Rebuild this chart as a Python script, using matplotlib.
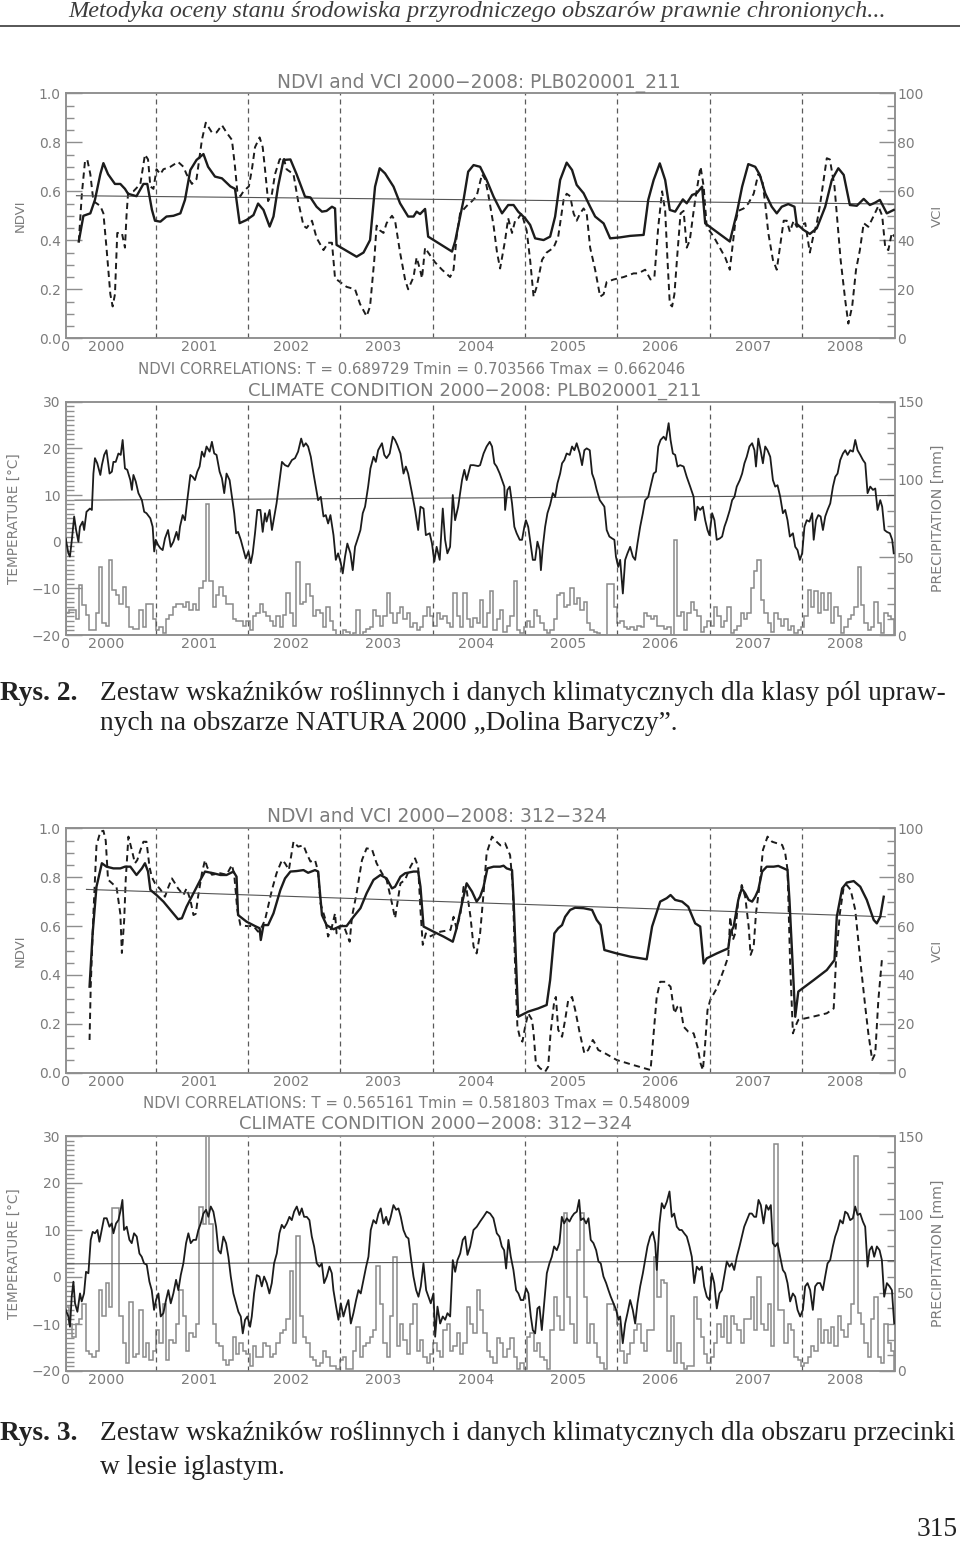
"""Page 315: NDVI/VCI and climate panels for Rys. 2 and Rys. 3."""

import matplotlib
matplotlib.use("Agg")
import matplotlib.pyplot as plt
from matplotlib.lines import Line2D
from matplotlib.ticker import MultipleLocator

W, H = 960, 1541

YEARS = ["2000", "2001", "2002", "2003", "2004", "2005", "2006", "2007", "2008"]

HEADER = "Metodyka oceny stanu środowiska przyrodniczego obszarów prawnie chronionych..."
CAP2 = ["Zestaw wskaźników roślinnych i danych klimatycznych dla klasy pól upraw-",
        "nych na obszarze NATURA 2000 „Dolina Baryczy”."]
CAP3 = ["Zestaw wskaźników roślinnych i danych klimatycznych dla obszaru przecinki",
        "w lesie iglastym."]
PAGE = "315"

TITLE_A = "NDVI and VCI 2000\u22122008: PLB020001_211"
CORR_A = "NDVI CORRELATIONS: T = 0.689729 Tmin = 0.703566 Tmax = 0.662046"
CLIM_A = "CLIMATE CONDITION 2000\u22122008: PLB020001_211"
TITLE_B = "NDVI and VCI 2000\u22122008: 312\u2212324"
CORR_B = "NDVI CORRELATIONS: T = 0.565161 Tmin = 0.581803 Tmax = 0.548009"
CLIM_B = "CLIMATE CONDITION 2000\u22122008: 312\u2212324"

# (month since start of axis, value)
NDVI_A = [(1.7, .395), (2.3, .50), (3.2, .51), (3.8, .565), (4.5, .67), (4.9, .715), (5.5, .67),
          (6.4, .63), (7.1, .63), (7.7, .61), (8.1, .59), (9.2, .58), (10.1, .63), (10.6, .63),
          (11.2, .525), (11.6, .48), (12.3, .476), (13.1, .497), (14.0, .50), (14.9, .51),
          (15.5, .565), (16.2, .687), (17.0, .728), (17.9, .752), (18.5, .70), (19.4, .66),
          (20.3, .653), (21.4, .62), (22.0, .61), (22.6, .47), (23.5, .483), (24.4, .503),
          (25.0, .55), (25.7, .524), (26.5, .456), (27.0, .497), (27.6, .62), (28.3, .728),
          (29.2, .73), (30.0, .67), (31.1, .578), (31.8, .575), (32.6, .537), (33.3, .517),
          (33.9, .52), (34.6, .537), (35.0, .53), (35.2, .381), (37.8, .333), (38.7, .350),
          (39.55, .401), (40.2, .619), (40.8, .694), (41.5, .673), (42.6, .619), (43.45, .551),
          (44.5, .497), (45.2, .497), (45.6, .517), (46.05, .507), (46.7, .528), (47.1, .415),
          (50.2, .354), (50.6, .395), (51.7, .565), (52.3, .68), (53.0, .707), (53.85, .70),
          (54.7, .646), (55.6, .578), (56.7, .510), (57.5, .544), (58.2, .544), (58.8, .517),
          (59.7, .490), (60.35, .463), (61.0, .408), (62.1, .401), (62.95, .415), (63.6, .497),
          (64.25, .646), (65.1, .717), (65.8, .687), (66.4, .626), (67.3, .592), (68.15, .537),
          (68.8, .497), (69.9, .469), (70.75, .408), (72.05, .412), (73.34, .418), (75.1, .422),
          (75.7, .565), (76.4, .646), (77.2, .714), (77.9, .646), (78.5, .524), (79.2, .517),
          (80.2, .567), (80.7, .551), (81.4, .585), (82.0, .592), (82.7, .619), (83.1, .469),
          (86.3, .395), (87.2, .51), (87.9, .619), (88.7, .711), (89.6, .70), (90.2, .667),
          (90.9, .592), (91.75, .537), (92.4, .51), (93.05, .537), (93.9, .548), (94.7, .537),
          (95.0, .467), (95.9, .442), (96.7, .426), (97.6, .449), (98.7, .537), (99.55, .646),
          (100.4, .694), (101.1, .667), (101.9, .544), (102.8, .541), (103.7, .569),
          (104.5, .544), (105.2, .554), (105.8, .565), (106.7, .51), (107.6, .524)]

VCI_A = [(1.7, 39.5), (2.1, 59), (2.5, 72), (2.8, 73), (3.2, 67), (3.6, 56), (4.5, 54), (4.9, 51),
         (5.3, 37), (5.8, 18), (6.1, 13), (6.4, 18), (6.7, 43), (7.3, 43), (7.7, 37), (7.9, 50),
         (8.1, 59), (8.8, 60), (9.7, 63), (10.3, 75), (10.7, 73), (11.0, 62), (11.4, 61),
         (11.8, 69), (12.3, 67), (12.7, 69), (13.6, 70), (14.6, 72), (15.3, 70), (15.7, 67),
         (16.4, 63), (17.0, 65), (17.7, 81), (18.2, 88), (19.0, 84), (19.6, 84), (20.3, 87),
         (20.9, 84), (21.6, 81), (22.0, 70), (22.3, 60), (22.7, 58), (23.1, 60), (23.8, 62),
         (24.2, 69), (24.6, 78), (25.2, 82), (25.6, 78), (25.9, 69), (26.3, 56), (26.8, 59),
         (27.2, 67), (27.8, 73), (28.3, 74), (28.7, 69), (29.6, 67), (30.2, 56), (30.9, 46),
         (31.3, 45), (32.0, 48), (32.6, 41), (33.5, 36), (34.1, 39), (34.6, 39), (35.0, 24.5),
         (35.65, 23), (36.5, 21), (37.6, 20), (38.25, 14), (39.1, 9), (39.55, 13), (40.1, 32),
         (40.4, 46), (40.85, 44), (41.3, 43), (41.7, 47), (42.4, 50), (42.8, 48), (43.45, 35),
         (44.1, 24), (44.5, 20), (45.2, 25), (45.6, 33), (46.05, 28), (46.3, 24.5), (46.7, 37),
         (47.1, 35), (48.0, 31), (48.9, 28), (49.95, 25), (50.4, 28), (50.8, 41.5), (51.25, 51),
         (52.1, 54), (52.8, 56), (53.4, 58), (54.1, 67), (54.5, 65), (54.9, 59), (55.6, 46),
         (56.05, 35), (56.45, 28.5), (57.1, 40), (57.5, 49), (58.0, 43), (58.4, 48), (58.8, 49),
         (59.25, 51), (59.9, 44), (60.35, 32), (60.8, 17), (61.2, 21), (61.9, 32), (62.5, 35),
         (63.4, 37), (64.0, 41.5), (64.7, 56.5), (65.1, 59), (65.55, 58), (66.0, 51), (66.4, 48),
         (66.85, 51), (67.3, 53), (67.7, 51), (68.15, 37), (68.8, 28), (69.45, 17), (69.9, 18),
         (70.3, 23), (71.2, 24), (72.5, 25), (73.8, 26.5), (74.4, 26.5), (75.3, 28), (76.0, 24),
         (76.5, 25), (77.0, 45.5), (77.5, 60), (77.9, 52), (78.2, 32), (78.5, 14), (78.8, 13),
         (79.1, 18), (79.5, 35), (79.9, 51), (80.3, 52), (80.7, 37), (81.1, 40), (81.6, 52),
         (82.0, 60.5), (82.5, 70), (82.9, 62), (83.3, 45.5), (84.2, 41.5), (85.0, 37), (85.7, 33),
         (86.3, 28), (86.6, 36), (87.0, 47), (87.4, 52), (88.1, 53), (88.7, 55), (89.4, 59),
         (90.0, 67), (90.5, 65), (90.9, 55), (91.3, 43), (91.9, 32), (92.4, 28), (92.8, 37),
         (93.3, 48), (93.7, 48), (94.1, 43.5), (94.6, 48), (95.0, 45.5), (95.4, 46), (96.1, 47),
         (96.7, 35), (97.1, 41), (97.6, 47), (98.0, 54), (98.5, 65), (98.9, 73.5), (99.3, 73),
         (99.9, 62), (100.3, 47), (100.7, 32), (101.3, 15.5), (101.7, 6), (102.2, 13),
         (102.7, 28), (103.2, 36), (103.7, 47), (104.3, 45.5), (105.0, 50), (105.6, 54),
         (106.1, 50), (106.5, 37), (106.9, 36), (107.35, 43), (107.7, 41.5)]

NDVI_A_TREND = [(1.4, 0.582), (107.7, 0.548)]

TEMP_A = [(0, .7), (.35, -2.5), (.55, -3.2), (.8, .4), (1.1, 5.4), (1.35, 2.5), (1.65, 0), (1.85, 3.2),
          (2.2, 4.3), (2.4, 2.5), (2.7, 6.4), (3.15, 7.1), (3.4, 6.8), (3.6, 14.6), (3.8, 17.9),
          (4.1, 16.8), (4.5, 14.3), (4.7, 16.4), (5.0, 18.6), (5.3, 19.6), (5.7, 14.6), (6.0, 15),
          (6.2, 17.1), (6.5, 17.1), (6.85, 18.9), (7.15, 18.6), (7.4, 21.8), (7.7, 15.7), (8.0, 15.4),
          (8.4, 13.2), (8.6, 11.1), (8.8, 14.3), (9.1, 12.9), (9.45, 10.4), (9.9, 8.9), (10.2, 6.4),
          (10.5, 6.1), (11.0, 5), (11.3, 3.2), (11.5, -2.1), (11.7, .4), (12.0, -.7), (12.3, -1.4),
          (12.6, -1.8), (12.9, .7), (13.3, 2.5), (13.65, -1.1), (14.0, 0), (14.4, 2.1), (14.65, .4),
          (14.85, 3.2), (15.2, 5.7), (15.5, 4.6), (15.8, 8.9), (16.2, 14.3), (16.5, 13.9),
          (16.8, 13.2), (17.1, 15), (17.4, 16.1), (17.7, 19.3), (18.0, 18.2), (18.3, 20.4),
          (18.7, 19.3), (19.0, 21.4), (19.3, 18.9), (19.6, 18.6), (20.0, 15), (20.3, 13.6),
          (20.6, 10.4), (20.9, 14.6), (21.3, 13.2), (21.6, 9.6), (21.9, 6.1), (22.15, 1.8),
          (22.4, 2.1), (22.75, .4), (23.1, -1.8), (23.4, -3.6), (23.75, -2.1), (24.05, -4.6),
          (24.3, -2.5), (24.6, 1.8), (24.9, 6.8), (25.3, 6.8), (25.6, 2.1), (25.9, 6.1), (26.1, 4.3),
          (26.5, 6.8), (26.8, 2.5), (27.1, 5.4), (27.4, 8.2), (27.8, 13.2), (28.1, 17.1),
          (28.5, 16.4), (28.9, 16.1), (29.4, 17.5), (29.8, 17.9), (30.2, 19.3), (30.6, 22.1),
          (30.9, 20.4), (31.2, 21.1), (31.5, 20.4), (31.85, 18.2), (32.2, 14.6), (32.5, 11.8),
          (32.8, 8.9), (33.15, 9.6), (33.5, 5.4), (33.8, 5.7), (34.1, 3.9), (34.4, 5.7), (34.8, 1.4),
          (35.1, -3.9), (35.4, -2.5), (35.75, -4.6), (36.0, -6.8), (36.3, -3.2), (36.6, -.4),
          (37.0, -2.5), (37.3, -6.1), (37.6, -1.1), (37.9, .4), (38.3, 2.5), (38.6, 6.1), (38.9, 7.5),
          (39.3, 11.8), (39.6, 15.7), (40.0, 18.2), (40.3, 17.1), (40.6, 19.6), (41.1, 21.1),
          (41.4, 18.6), (41.7, 17.9), (42.1, 18.9), (42.5, 22.5), (42.8, 21.8), (43.1, 20.7),
          (43.5, 18.9), (43.9, 14.6), (44.2, 16.1), (44.5, 14.6), (45.0, 10.4), (45.4, 6.8),
          (45.8, 2.5), (46.1, 7.5), (46.5, 7.1), (46.8, 1.4), (47.3, 1.8), (47.6, -.4), (47.9, -4.3),
          (48.2, -1.1), (48.6, -3.9), (49.0, 7.1), (49.3, .4), (49.6, -2.5), (49.95, -1.1),
          (50.3, 10), (50.6, 4.6), (51.0, 7.5), (51.5, 13.2), (51.8, 15.4), (52.1, 13.2),
          (52.6, 16.4), (53.0, 16.4), (53.6, 16.2), (53.85, 16.4), (54.3, 18.9), (54.7, 20.4),
          (55.1, 21.4), (55.4, 20.4), (55.7, 16.8), (56.0, 16.1), (56.4, 14.6), (56.7, 13.2),
          (57.0, 11.8), (57.1, 6.8), (57.4, 11.1), (57.7, 11.8), (58.0, 8.2), (58.3, 3.2),
          (58.6, 1.8), (59.0, .4), (59.3, .4), (59.6, 3.2), (59.8, 4.6), (60.1, 3.2), (60.4, -.4),
          (60.7, -3.9), (61.0, -3.9), (61.3, 0), (61.6, -1.8), (61.75, -6.1), (62.0, -1.1),
          (62.3, 3.2), (62.6, 6.1), (62.95, 7.9), (63.3, 10.4), (63.6, 9.6), (63.9, 12.5),
          (64.25, 14.6), (64.5, 16.8), (64.8, 17.5), (65.1, 18.9), (65.5, 18.6), (65.8, 20.4),
          (66.1, 19.6), (66.4, 21.1), (66.8, 18.9), (67.1, 16.4), (67.4, 19.6), (67.7, 20),
          (68.1, 19.6), (68.4, 14.6), (68.7, 13.2), (69.0, 11.1), (69.4, 8.9), (69.7, 8.2),
          (70.0, 7.5), (70.3, 2.5), (70.65, 1.1), (71.0, .7), (71.3, .4), (71.5, -3.2), (71.8, -5.4),
          (72.05, -3.9), (72.4, -11.1), (72.7, -3.9), (73.0, -2.5), (73.35, -1.1), (73.7, -3.2),
          (74.0, -3.9), (74.3, -.4), (74.65, 3.2), (75.0, 6.1), (75.3, 8.9), (75.7, 9.6),
          (76.0, 11.8), (76.4, 14.6), (76.7, 15), (77.0, 20.4), (77.3, 21.8), (77.7, 22.5),
          (78.0, 21.8), (78.35, 25.4), (78.6, 21.8), (78.9, 18.9), (79.2, 18.6), (79.5, 16.1),
          (79.85, 16.4), (80.3, 16.1), (80.7, 13.9), (81.15, 11.8), (81.6, 9.6), (81.8, 4.6),
          (82.1, 7.5), (82.45, 6.8), (82.8, 7.5), (83.1, 4.6), (83.4, 2.5), (83.65, 1.4), (84.0, 6.1),
          (84.3, 4.6), (84.6, .4), (85.0, .7), (85.3, 1.1), (85.6, 3.2), (85.9, 4.6), (86.3, 6.8),
          (86.6, 8.9), (86.9, 9.6), (87.2, 11.8), (87.6, 13.2), (87.9, 14.6), (88.2, 16.8),
          (88.5, 18.2), (88.85, 20.4), (89.2, 21.1), (89.5, 19.6), (89.7, 16.1), (90.0, 22.1),
          (90.3, 19.6), (90.6, 16.8), (90.9, 20.4), (91.2, 19.6), (91.55, 18.2), (91.9, 13.2),
          (92.2, 11.8), (92.5, 12.1), (92.85, 9.6), (93.2, 6.1), (93.5, 6.8), (93.8, 4.6),
          (94.1, 1.1), (94.5, 1.8), (94.8, -1.1), (95.1, -1.8), (95.4, -3.9), (95.7, -2.5),
          (96.0, 3.2), (96.3, 4.6), (96.65, 4.3), (97.0, 6.1), (97.2, .4), (97.5, 4.6), (97.8, 5.7),
          (98.1, 5.4), (98.4, 2.5), (98.7, 5.4), (99.0, 6.8), (99.35, 8.2), (99.7, 11.8),
          (100.0, 13.9), (100.3, 14.6), (100.65, 17.5), (101.0, 18.9), (101.3, 19.6),
          (101.6, 18.6), (101.95, 19.6), (102.3, 19.3), (102.6, 21.8), (102.9, 19.6),
          (103.25, 18.6), (103.6, 17.5), (103.9, 16.8), (104.2, 10.4), (104.55, 11.8),
          (104.9, 11.1), (105.2, 11.4), (105.5, 6.8), (105.85, 8.9), (106.1, 7.5), (106.4, 2.5),
          (106.7, 2.1), (107.1, 1.8), (107.4, .4), (107.6, -2.5)]

TEMP_A_TREND = [(1.2, 8.9), (107.7, 9.9)]

# precipitation, equal bins across the axis [mm]
PREC_A = [14, 16, 16, 10, 32, 19, 13, 3, 3, 14, 44, 7.5, 6, 48, 29, 26, 20, 31, 18, 5,
          4, 4, 16, 5, 20, 20, 10, 3, 5, 1, 10, 13, 18, 20, 20, 18, 21, 16, 20, 16,
          30, 35, 84, 35, 18, 26, 31, 25, 20, 20, 10, 9, 9, 6, 9, 3, 12, 14, 20, 15,
          12, 9, 6, 12, 5, 13, 27, 14, 6, 47, 20, 21, 33, 25, 12, 16, 14, 5, 18, 9,
          3, 0, 0, 3, 2, 0, 1, 16, 0, 2, 4, 5, 16, 12, 6, 12, 27, 14, 7.5, 14,
          18, 10, 14, 5, 7.5, 3, 5, 12, 18, 12, 6, 14, 10, 12, 7.5, 5, 27, 12, 5, 27,
          10, 5, 11, 7.5,
          22.5, 5, 14, 28, 3, 10, 16, 2, 6, 12, 35, 3, 1, 5, 9, 5, 16, 12, 7.5, 3,
          1, 3, 10, 26, 27, 18, 19, 30, 20, 24, 16, 21, 7.5, 3, 2, 1, 0, 0, 33, 33,
          18, 7.5, 9, 5, 4, 5, 3, 6, 5, 14, 12, 10, 12, 6, 6, 4, 5, 0, 61, 12,
          15, 3, 14, 21, 16, 12, 2, 5, 9, 6, 18, 12, 5, 9, 18, 1, 3, 6, 14, 10,
          14, 30, 41, 48, 22.5, 14, 7.5, 2, 14, 10, 6, 10, 3, 6, 1, 3, 5, 12, 29, 18,
          28, 14, 27, 16, 27, 7.5, 18, 12, 1, 5, 10, 13, 18, 44, 19, 7.5, 3, 5, 21, 7.5,
          1, 14, 12, 10]

NDVI_B = [(3.1, .352), (3.5, .57), (4.0, .761), (4.7, .857), (5.3, .843), (6.2, .836), (7.1, .836),
          (7.7, .843), (8.4, .843), (9.2, .809), (9.9, .836), (10.3, .857), (10.7, .823), (11.0, .748),
          (11.8, .727), (12.7, .70), (13.6, .666), (14.6, .628), (15.1, .632), (15.7, .679),
          (16.6, .734), (17.5, .789), (18.1, .823), (19.2, .816), (20.1, .809), (20.9, .809),
          (21.8, .823), (22.2, .802), (22.4, .645), (23.5, .618), (24.6, .60), (25.2, .591),
          (25.35, .543), (25.7, .604), (26.3, .604), (27.0, .652), (27.9, .748), (28.5, .795),
          (29.2, .823), (30.0, .825), (30.9, .829), (31.5, .818), (32.4, .829), (32.8, .823),
          (33.3, .645), (33.9, .604), (34.8, .587), (35.7, .60), (36.5, .60), (37.4, .638),
          (38.3, .673), (39.1, .734), (40.0, .789), (40.9, .809), (41.7, .795), (42.4, .754),
          (42.8, .761), (43.5, .802), (44.1, .816), (45.2, .823), (45.8, .823), (46.1, .761),
          (46.5, .598), (47.8, .577), (49.1, .557), (50.3, .536), (50.8, .591), (51.5, .693),
          (52.1, .775), (52.8, .741), (53.4, .70), (53.85, .72), (54.3, .761), (54.8, .836),
          (55.6, .843), (56.45, .843), (56.9, .847), (57.3, .836), (58.0, .829), (58.2, .707),
          (58.8, .229), (60.1, .25), (61.4, .263), (62.5, .277), (62.95, .379), (63.5, .57),
          (64.0, .591), (64.5, .604), (64.9, .638), (65.55, .666), (66.2, .675), (67.3, .673),
          (68.4, .666), (69.0, .625), (69.5, .604), (70.0, .502), (71.6, .488), (73.35, .475),
          (75.5, .464), (76.2, .598), (77.25, .70), (78.1, .714), (78.6, .727), (79.2, .707),
          (80.1, .70), (80.9, .679), (81.8, .611), (82.45, .598), (82.9, .447), (83.3, .468),
          (84.6, .488), (86.1, .509), (86.35, .57), (86.8, .598), (87.4, .707), (87.85, .754),
          (88.3, .734), (88.75, .707), (89.2, .70), (89.6, .72), (90.0, .748), (90.5, .823),
          (91.1, .843), (92.0, .843), (92.6, .846), (93.3, .836), (93.8, .829), (94.05, .707),
          (94.6, .352), (94.8, .229), (95.2, .332), (97.2, .379), (98.9, .42), (99.9, .461),
          (100.2, .638), (100.9, .754), (101.5, .778), (102.4, .784), (103.25, .761), (104.1, .707),
          (105.0, .625), (105.4, .611), (105.85, .638), (106.3, .72)]

VCI_B = [(3.1, 13.4), (3.25, 35), (3.6, 65), (4.0, 93), (4.5, 98.6), (4.9, 99), (5.2, 95), (5.5, 79),
         (6.2, 77), (6.6, 76), (7.1, 65), (7.3, 49), (7.6, 62.5), (7.8, 79), (8.15, 96.6), (8.6, 91),
         (9.0, 85.7), (9.3, 87), (9.7, 91), (10.1, 94.5), (10.5, 94.5), (10.9, 84), (11.2, 80),
         (11.6, 77.5), (12.3, 75), (12.9, 72), (13.35, 76), (13.8, 79.5), (14.2, 77.5), (14.6, 75.4),
         (15.3, 72.7), (15.7, 75.4), (16.2, 70.7), (16.6, 64.5), (16.9, 65), (17.2, 72), (17.7, 81.6),
         (18.1, 87), (18.4, 84), (19.0, 81), (20.1, 81.6), (20.9, 81), (21.6, 85), (21.9, 81),
         (22.3, 66.6), (22.7, 60.4), (23.5, 60), (24.4, 60), (25.0, 57.7), (25.5, 59.8), (25.9, 62.5),
         (26.3, 68), (26.8, 74.8), (27.4, 81.6), (28.1, 87), (28.5, 85.7), (29.0, 83), (29.6, 94.5),
         (30.2, 92.5), (30.9, 93), (31.3, 89.8), (31.8, 86.4), (32.4, 87), (32.8, 82.3), (33.1, 69.3),
         (33.7, 63.2), (34.1, 55.7), (34.6, 59.8), (35.0, 65.2), (35.2, 57), (35.7, 59.8), (36.1, 60.4),
         (36.5, 57), (36.9, 53.6), (37.2, 63.8), (37.8, 73.4), (38.5, 87), (39.1, 91.8), (39.8, 91.4),
         (40.4, 85.7), (41.1, 81.6), (41.7, 78.9), (42.4, 69.3), (42.8, 63.2), (43.1, 69.3),
         (43.5, 77.5), (44.1, 78.9), (44.8, 84.3), (45.4, 87.7), (45.8, 84.3), (46.1, 66.6),
         (46.4, 52.3), (46.8, 57), (47.3, 55.7), (48.7, 57.7), (50.0, 58.4), (50.4, 63.8), (50.8, 59),
         (51.3, 65.2), (51.7, 76), (52.1, 74.8), (52.6, 63.8), (53.0, 51.6), (53.4, 48.8),
         (53.85, 57), (54.3, 73.4), (54.7, 89.8), (55.4, 96.6), (56.0, 94.5), (56.5, 93),
         (57.1, 93.9), (57.75, 89), (58.1, 76), (58.4, 43.4), (58.7, 18.8), (59.05, 14),
         (59.35, 12.7), (59.7, 18.8), (60.1, 24.3), (60.6, 21.6), (60.8, 16.2), (61.1, 3.8),
         (61.65, 1.8), (62.3, .4), (62.7, 2.5), (63.0, 16), (63.5, 29.7), (63.7, 31), (64.0, 17.5),
         (64.5, 14.7), (64.9, 21.6), (65.3, 29.7), (65.8, 31), (66.2, 25.8), (66.8, 16.2),
         (67.4, 7.9), (67.9, 9.3), (68.5, 13.4), (68.9, 11.3), (69.2, 9.3), (70.1, 7.9), (71.6, 5.2),
         (73.8, 3.1), (76.0, 1.1), (76.4, 16.1), (76.8, 31), (77.25, 37.2), (77.9, 37.2),
         (78.6, 35.2), (79.1, 24.3), (79.5, 27), (79.85, 27.7), (80.3, 18.8), (80.9, 16.8),
         (81.6, 16.1), (82.1, 10.6), (82.5, 3.8), (82.8, 1.1), (83.1, 12), (83.4, 25.6),
         (83.75, 29.7), (84.6, 34.5), (85.5, 42), (86.1, 47.5), (86.35, 63.8), (86.7, 54.3),
         (87.0, 57), (87.4, 70.7), (87.85, 76.8), (88.3, 72), (88.75, 59.8), (89.0, 48.2),
         (89.4, 51.6), (89.7, 65.2), (90.2, 77.5), (90.6, 91.1), (91.2, 96.6), (91.8, 94.5),
         (92.4, 93.9), (93.1, 93.2), (93.5, 89.8), (93.8, 83), (94.15, 43.4), (94.5, 16.1),
         (94.8, 18.8), (95.2, 21.6), (97.2, 23), (98.9, 24.3), (99.8, 26.3), (100.1, 46),
         (100.6, 65.2), (101.1, 76), (101.5, 76.8), (102.0, 74.8), (102.6, 66.6), (103.25, 46),
         (103.9, 27), (104.3, 16.1), (104.8, 5.2), (105.2, 7.9), (105.6, 29.7), (106.1, 47.5)]

NDVI_B_TREND = [(2.7, 0.75), (106.5, 0.638)]

TEMP_B = [(0, -7), (.35, -8.4), (.56, -10.6), (.78, -4.2), (1.0, -1), (1.21, -5.6), (1.52, -7.4),
          (1.86, -3.5), (2.08, -5.2), (2.38, -3.5), (2.64, 1.1), (2.95, .8), (3.25, 7.9), (3.51, 9.6),
          (3.81, 9.3), (4.12, 10), (4.38, 7.5), (4.68, 10), (4.98, 12.5), (5.33, 12.5), (5.68, 10.7),
          (5.98, 11.4), (6.2, 9.3), (6.54, 11.4), (6.85, 12.1), (7.15, 14.3), (7.37, 16.4), (7.58, 10),
          (7.93, 10.7), (8.28, 7.9), (8.58, 7.2), (8.88, 9.3), (9.23, 8.6), (9.58, 5), (9.88, 4.3),
          (10.18, 2.9), (10.53, 2.6), (10.88, -1), (11.18, -2.8), (11.48, -7), (11.74, -4.9),
          (12.05, -3.5), (12.35, -8.4), (12.69, -7.7), (13.04, -4.9), (13.34, -2.8), (13.65, -5.6),
          (13.99, -3.5), (14.34, -.6), (14.64, -2.8), (14.95, .4), (15.29, 2.9), (15.64, 7.2),
          (15.94, 9.3), (16.25, 7.2), (16.59, 7.9), (16.94, 7.9), (17.24, 10), (17.55, 11.4),
          (17.89, 13.5), (18.24, 14.3), (18.54, 12.8), (18.85, 15), (19.19, 13.9), (19.54, 10.7),
          (19.84, 5.7), (20.15, 5), (20.49, 8.6), (20.84, 7.2), (21.14, 4.3), (21.45, .1),
          (21.79, -3.5), (22.14, -5.6), (22.44, -7.4), (22.75, -8.4), (23.01, -12), (23.31, -9.1),
          (23.61, -8.4), (23.96, -10.6), (24.18, -8.4), (24.48, -3.5), (24.83, .4), (25.17, .1),
          (25.48, -2), (25.78, .1), (26.13, -1.3), (26.47, -3.5), (26.78, -1.3), (27.08, 2.9),
          (27.43, 5), (27.77, 9.3), (28.08, 11.1), (28.38, 10.4), (28.73, 11.4), (29.07, 12.8),
          (29.38, 12.1), (29.68, 13.9), (30.03, 15), (30.37, 13.2), (30.68, 14.6), (30.98, 12.8),
          (31.33, 12.8), (31.67, 12.1), (31.98, 8.6), (32.28, 6.5), (32.63, 2.9), (32.97, 2.2),
          (33.28, 2.9), (33.58, -1.3), (33.93, .1), (34.27, 2.2), (34.58, .8), (34.79, -2.8),
          (35.14, -6.3), (35.44, -9.1), (35.75, -5.6), (36.09, -8.4), (36.44, -6.3), (36.74, -4.9),
          (37.05, -9.9), (37.39, -7.7), (37.74, -4.9), (38.04, -2.8), (38.34, -3.5), (38.69, -.6),
          (39.04, 2.2), (39.34, 4.3), (39.64, 10), (39.99, 12.1), (40.34, 11.4), (40.64, 13.5),
          (40.94, 14.6), (41.29, 11.4), (41.64, 12.8), (41.94, 11.1), (42.24, 12.8), (42.59, 15.3),
          (42.94, 14.3), (43.24, 14.6), (43.54, 12.8), (43.89, 10), (44.24, 8.6), (44.54, 8.2),
          (44.84, 4.3), (45.19, .1), (45.54, -2.8), (45.84, -4.2), (46.14, -2), (46.49, 2.9),
          (46.84, -2.8), (47.14, -4.2), (47.44, -5.6), (47.79, -3.5), (48.01, -12.7), (48.31, -6.3),
          (48.66, -9.9), (49.0, -8.4), (49.31, -9.1), (49.61, -7.7), (49.96, -8.4), (50.3, 3.6),
          (50.61, 1.1), (50.91, 3.6), (51.26, 5), (51.6, 7.9), (51.91, 8.6), (52.21, 4.7),
          (52.56, 6.5), (52.99, 10), (53.42, 10.7), (53.85, 11.8), (54.28, 12.8), (54.72, 13.9),
          (55.15, 13.5), (55.58, 12.5), (56.02, 9.3), (56.36, 8.6), (56.67, 6.5), (56.97, 5.7),
          (57.23, 1.8), (57.53, 7.9), (57.84, 4.3), (58.18, 1.5), (58.53, -2.8), (58.83, -3.5),
          (59.14, -4.9), (59.48, -4.9), (59.83, -2.4), (60.13, -3.5), (60.44, -8.4), (60.7, -11.3),
          (61.0, -12), (61.3, -6.7), (61.56, -6.3), (61.87, -11.3), (62.17, -5.6), (62.52, .8),
          (62.86, 2.9), (63.17, 4.3), (63.47, 6.5), (63.82, 5.7), (64.16, 7.2), (64.47, 12.8),
          (64.77, 11.4), (65.12, 12.5), (65.46, 11.8), (65.77, 12.8), (66.07, 13.5), (66.42, 13.9),
          (66.72, 16.4), (66.94, 12.1), (67.28, 12.5), (67.63, 11.4), (67.93, 12.5), (68.23, 7.9),
          (68.58, 7.2), (68.93, 5.7), (69.23, 3.3), (69.53, 2.9), (69.88, .1), (70.23, -1.3),
          (70.53, -2.8), (70.83, -4.2), (71.18, -5.6), (71.53, -7), (71.83, -9.1), (72.05, -8.4),
          (72.39, -14.1), (72.7, -9.9), (73.0, -7.7), (73.35, -4.9), (73.69, -7), (74.0, -9.9),
          (74.3, -5.6), (74.65, -2), (75.0, .8), (75.3, 3.6), (75.6, 6.5), (75.95, 8.6),
          (76.29, 9.6), (76.6, 7.2), (76.81, 1.5), (77.16, 11.4), (77.46, 15.7), (77.77, 14.6),
          (78.11, 16), (78.46, 18.2), (78.76, 12.8), (79.07, 13.5), (79.41, 10.7), (79.76, 10),
          (80.06, 10), (80.37, 9.3), (80.71, 8.6), (81.06, 6.5), (81.36, 4.3), (81.67, -1.3),
          (82.01, 2.2), (82.36, 1.5), (82.66, 2.2), (82.97, -2), (83.31, -4.2), (83.66, -4.9),
          (83.96, .8), (84.27, -1.3), (84.61, -6.7), (84.96, -3.5), (85.26, -2.8), (85.57, .1),
          (85.91, 3.3), (86.26, 2.2), (86.56, 2.9), (86.87, 1.5), (87.21, 4.3), (87.56, 6.5),
          (87.86, 8.6), (88.17, 10.7), (88.51, 12.1), (88.86, 13.5), (89.16, 13.5), (89.47, 12.8),
          (89.72, 12.8), (90.03, 16.4), (90.33, 15.3), (90.68, 11.4), (91.03, 15.3), (91.33, 14.3),
          (91.63, 15.3), (91.89, 7.2), (92.2, 6.5), (92.5, 7.2), (92.84, 4.3), (93.19, 1.5),
          (93.49, .8), (93.8, -1.3), (94.14, -5.2), (94.49, -3.5), (94.79, -4.2), (95.1, -7),
          (95.44, -8.4), (95.79, -7), (96.09, -2), (96.4, -1.3), (96.74, -2.8), (97.09, -7),
          (97.39, -2), (97.7, -1.3), (98.04, -1.3), (98.39, -2.8), (98.69, .1), (99.0, 2.9),
          (99.34, 3.6), (99.69, 6.5), (99.99, 8.6), (100.3, 10), (100.64, 12.1), (100.99, 11.4),
          (101.29, 13.9), (101.6, 13.5), (101.94, 12.1), (102.29, 12.5), (102.59, 15), (102.9, 13.2),
          (103.24, 13.5), (103.59, 11.8), (103.89, 10.7), (104.2, 2.2), (104.46, 5.7), (104.76, 6.5),
          (105.06, 4.3), (105.41, 6.5), (105.76, 5.7), (106.06, 3.6), (106.36, -4.2), (106.71, -1.3),
          (107.06, -2), (107.36, -2.8), (107.66, -9.9)]

TEMP_B_TREND = [(0.1, 2.8), (107.7, 3.5)]

PREC_B = [41, 30, 22, 30, 33, 43, 13, 11, 9, 13, 52, 35, 56, 41, 104, 104, 35, 18, 5, 44,
          9, 11, 39, 9, 18, 7, 13, 26, 18, 43, 7, 20, 18, 30, 52, 35, 13, 24, 22, 30,
          105, 94, 150, 94, 30, 18, 16, 7, 4, 7, 22, 11, 18, 13, 11, 3, 16, 9, 9, 18,
          16, 9, 11, 18, 24, 26, 33, 64, 18, 86, 35, 22, 18, 9, 7, 3, 5, 13, 9, 3,
          3, 1, 7, 9, 1, 1, 13, 28, 9, 16, 18, 22, 26, 67, 43, 18, 9, 35, 73, 16,
          30, 20, 11, 30, 43, 13, 20, 9, 5, 11, 18, 13, 9, 26, 30, 13, 16, 24, 11, 18,
          41, 30, 24, 52,
          39, 24, 13, 9, 5, 21, 18, 9, 14, 21, 9, 1, 5, 1, 22, 24, 13, 18, 9, 7,
          1, 26, 47, 35, 26, 101, 47, 30, 18, 77, 101, 47, 18, 30, 18, 9, 5, 1, 43, 43,
          39, 30, 13, 5, 11, 18, 26, 30, 18, 13, 26, 26, 73, 47, 58, 56, 13, 35, 5, 18,
          5, 1, 3, 3, 47, 33, 22, 11, 5, 9, 18, 30, 22, 35, 18, 35, 30, 26, 18, 33,
          33, 47, 26, 60, 30, 26, 43, 16, 145, 39, 39, 18, 30, 26, 9, 7, 3, 5, 9, 16,
          13, 33, 18, 26, 18, 28, 16, 35, 26, 22, 30, 43, 137, 37, 30, 18, 9, 33, 47, 9,
          5, 30, 18, 13]

X_MAX = 107.7
FRAME = "#8e8e8e"
LABEL = "#7c7c7c"
INK = "#1c1c1c"
SANS = "DejaVu Sans"
SERIF = "Liberation Serif"


def rect(left, top, right, bottom):
    return [left / W, 1 - bottom / H, (right - left) / W, (bottom - top) / H]


def ftext(fig, x, y, s, **kw):
    return fig.text(x / W, 1 - y / H, s, **kw)


def base_axes(fig, box, ylim, major, minor, ylim_r, major_r, minor_r):
    ax = fig.add_axes(rect(*box))
    axr = ax.twinx()
    ax.set_xlim(0, X_MAX)
    ax.set_ylim(*ylim)
    axr.set_ylim(*ylim_r)
    ax.set_xticks([0] + [5.3 + 12 * k for k in range(len(YEARS))])
    ax.set_xticklabels(["0"] + YEARS)
    ax.tick_params(axis="x", length=0, pad=1.5, labelsize=10.3, labelcolor=LABEL)
    for a, mj, mn, side in ((ax, major, minor, "left"), (axr, major_r, minor_r, "right")):
        a.yaxis.set_major_locator(MultipleLocator(mj))
        a.yaxis.set_minor_locator(MultipleLocator(mn))
        a.tick_params(axis="y", which="both", direction="in", color=FRAME, width=1.0,
                      labelsize=10, labelcolor=LABEL, pad=3.5 if side == "left" else 2)
        a.tick_params(axis="y", which="major", length=11.5)
        a.tick_params(axis="y", which="minor", length=5.5)
        for sp in a.spines.values():
            sp.set_color(FRAME)
            sp.set_linewidth(1.1)
    for k in range(len(YEARS) - 1):
        ax.axvline(11.7 + 12 * k, color="#5a5a5a", lw=0.9, ls=(0, (4, 3.2)), zorder=1)
    return ax, axr


def ndvi_panel(fig, box, ndvi, vci, trend):
    ax, axr = base_axes(fig, box, (0, 1), 0.2, 0.05, (0, 100), 20, 5)
    ax.set_zorder(axr.get_zorder() + 1)
    ax.patch.set_visible(False)
    tx, ty = zip(*trend)
    ax.plot(tx, ty, color="#555555", lw=0.8, zorder=2)
    vx, vy = zip(*vci)
    axr.plot(vx, vy, color=INK, lw=1.4, ls=(0, (3.2, 2.2)))
    nx, ny = zip(*ndvi)
    ax.plot(nx, ny, color=INK, lw=1.7, zorder=3)
    return ax


def climate_panel(fig, box, temp, trend, prec):
    ax, axr = base_axes(fig, box, (-20, 30), 10, 1, (0, 150), 50, 10)
    ax.set_zorder(axr.get_zorder() + 1)
    ax.patch.set_visible(False)
    n = len(prec)
    edges = [X_MAX * i / n for i in range(n + 1)]
    axr.stairs(prec, edges, color="#8a8a8a", lw=1.1, baseline=0)
    tx, ty = zip(*trend)
    ax.plot(tx, ty, color="#555555", lw=0.8, zorder=2)
    mx, my = zip(*temp)
    ax.plot(mx, my, color=INK, lw=1.3, zorder=3)
    return ax


fig = plt.figure(figsize=(W / 100, H / 100), dpi=100)
ren = fig.canvas.get_renderer()

# header
head = ftext(fig, 68, 11, HEADER, ha="left", va="center", family=SERIF, style="italic",
             size=17, color="#3c3c3c")
head.set_fontsize(17 * 820 / head.get_window_extent(ren).width)
fig.add_artist(Line2D([0, 1], [1 - 26 / H] * 2, transform=fig.transFigure, color="#3a3a3a", lw=1.2))

# Rys. 2
ndvi_panel(fig, (65.7, 93.3, 894.5, 338.3), NDVI_A, VCI_A, NDVI_A_TREND)
climate_panel(fig, (65.7, 401.7, 894.5, 635.0), TEMP_A, TEMP_A_TREND, PREC_A)
ftext(fig, 277, 83, TITLE_A, ha="left", va="center", family=SANS, size=13.4, color=LABEL)
ftext(fig, 138, 370, CORR_A, ha="left", va="center", family=SANS, size=10.8, color=LABEL)
ftext(fig, 248, 391, CLIM_A, ha="left", va="center", family=SANS, size=13, color=LABEL)

# Rys. 3
ndvi_panel(fig, (65.7, 828.3, 894.5, 1072.7), NDVI_B, VCI_B, NDVI_B_TREND)
climate_panel(fig, (65.7, 1136.0, 894.5, 1371.0), TEMP_B, TEMP_B_TREND, PREC_B)
ftext(fig, 267, 817, TITLE_B, ha="left", va="center", family=SANS, size=13.4, color=LABEL)
ftext(fig, 143, 1104, CORR_B, ha="left", va="center", family=SANS, size=10.8, color=LABEL)
ftext(fig, 239, 1124, CLIM_B, ha="left", va="center", family=SANS, size=13, color=LABEL)

# axis labels
for yc in (215.8, 950.5):
    ftext(fig, 20, yc, "NDVI", rotation=90, ha="center", va="center", family=SANS, size=9.5, color=LABEL)
    ftext(fig, 937, yc, "VCI", rotation=90, ha="center", va="center", family=SANS, size=9.5, color=LABEL)
for yc in (518.3, 1253.5):
    ftext(fig, 14, yc, "TEMPERATURE [\u00b0C]", rotation=90, ha="center", va="center",
          family=SANS, size=9.8, color=LABEL)
    ftext(fig, 938, yc, "PRECIPITATION [mm]", rotation=90, ha="center", va="center",
          family=SANS, size=10.2, color=LABEL)

# captions: one size for all, fitted so both long lines end near the right margin
sizes = []
for line in (CAP2[0], CAP3[0]):
    probe = ftext(fig, 100, 693, line, ha="left", va="center", family=SERIF, size=18)
    sizes.append(18 * 856 / probe.get_window_extent(ren).width)
    probe.remove()
cap_size = min(sizes)
cap_kw = dict(ha="left", va="center", family=SERIF, size=cap_size, color="#222222")
ftext(fig, 0, 693, "Rys. 2.", weight="bold", **cap_kw)
ftext(fig, 100, 693, CAP2[0], **cap_kw)
ftext(fig, 100, 723, CAP2[1], **cap_kw)
ftext(fig, 0, 1433, "Rys. 3.", weight="bold", **cap_kw)
ftext(fig, 100, 1433, CAP3[0], **cap_kw)
ftext(fig, 100, 1467, CAP3[1], **cap_kw)
ftext(fig, 958, 1530, PAGE, ha="right", va="center", family=SERIF, size=cap_size, color="#222222")

fig.savefig("out.png", dpi=100)
